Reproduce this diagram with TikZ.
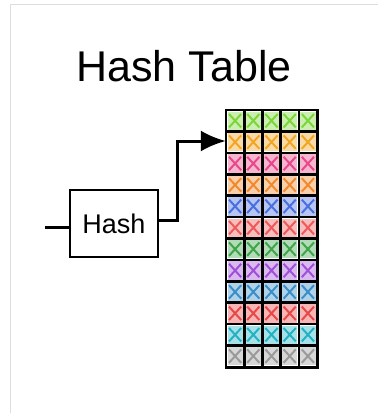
\documentclass[tikz,border=0pt]{standalone}
\usepackage{fontspec}
\setmainfont{Liberation Sans}
\usetikzlibrary{positioning,arrows.meta}
\definecolor{FrameGray}{HTML}{DDDDDD}
\definecolor{RowA}{HTML}{7CD63A}
\definecolor{RowB}{HTML}{F2A623}
\definecolor{RowC}{HTML}{E8488A}
\definecolor{RowD}{HTML}{F08A2C}
\definecolor{RowE}{HTML}{4A6FE0}
\definecolor{RowF}{HTML}{EE5A5A}
\definecolor{RowG}{HTML}{3FA54A}
\definecolor{RowH}{HTML}{A050D8}
\definecolor{RowI}{HTML}{3A8FC8}
\definecolor{RowJ}{HTML}{E84848}
\definecolor{RowK}{HTML}{22B2C4}
\definecolor{RowL}{HTML}{9A9A9A}

\begin{document}
\begin{tikzpicture}[x=1pt,y=-1pt]

    \tikzstyle{box}=[
      draw,
      line width=2.8pt,
      minimum width=88pt,
      minimum height=67pt,
      font=\fontsize{27}{30}\selectfont
    ]
    \tikzstyle{link}=[line width=3pt]

    \useasboundingbox (0,0) rectangle (378,413);
    \draw[FrameGray, line width=0.8pt] (10,413) -- (10,4) -- (378,4);

    % --- Title ---
    \node[font=\fontsize{43}{46}\selectfont] (title) at (184,66) {Hash Table};

    % --- Hash function ---
    \node[box] (hash) at (114,223.5) {Hash};
    \coordinate (in) at (45,227);
    \draw[link] (in) -- (in -| hash.west);

    % --- Table cells ---
    \foreach \c [count=\r from 0] in {RowA,RowB,RowC,RowD,RowE,RowF,RowG,RowH,RowI,RowJ,RowK,RowL} {
      \foreach \k in {0,...,4} {
        \pgfmathsetmacro{\xa}{226+\k*18.2}
        \pgfmathsetmacro{\ya}{110+\r*21.4}
        \fill[color=\c, opacity=0.4] (\xa+1.5,\ya+1.5) rectangle ++(15.2,18.4);
        \draw[color=\c, line width=2pt]
          (\xa+3,\ya+4) -- ++(12.2,13.4)
          (\xa+3,\ya+17.4) -- ++(12.2,-13.4);
      }
    }

    % --- Table grid ---
    \node[draw=none, minimum width=91pt, minimum height=257pt,
          inner sep=0pt] (table) at (271.5,238.5) {};
    \draw[line width=2.6pt] (table.north west) rectangle (table.south east);
    \foreach \k in {1,...,4}
      \draw[line width=2.6pt] (226+\k*18.2,110) -- (226+\k*18.2,367);
    \foreach \r in {1,...,11}
      \draw[line width=2.6pt] (226,110+\r*21.4) -- (317,110+\r*21.4);

    % --- Hash to table ---
    \coordinate (bend) at (177,141);
    \draw[link, -{Latex[length=25pt,width=21pt]}]
      (hash.east |- 0,220) -| (bend) -- (bend -| table.west);

\end{tikzpicture}
\end{document}
